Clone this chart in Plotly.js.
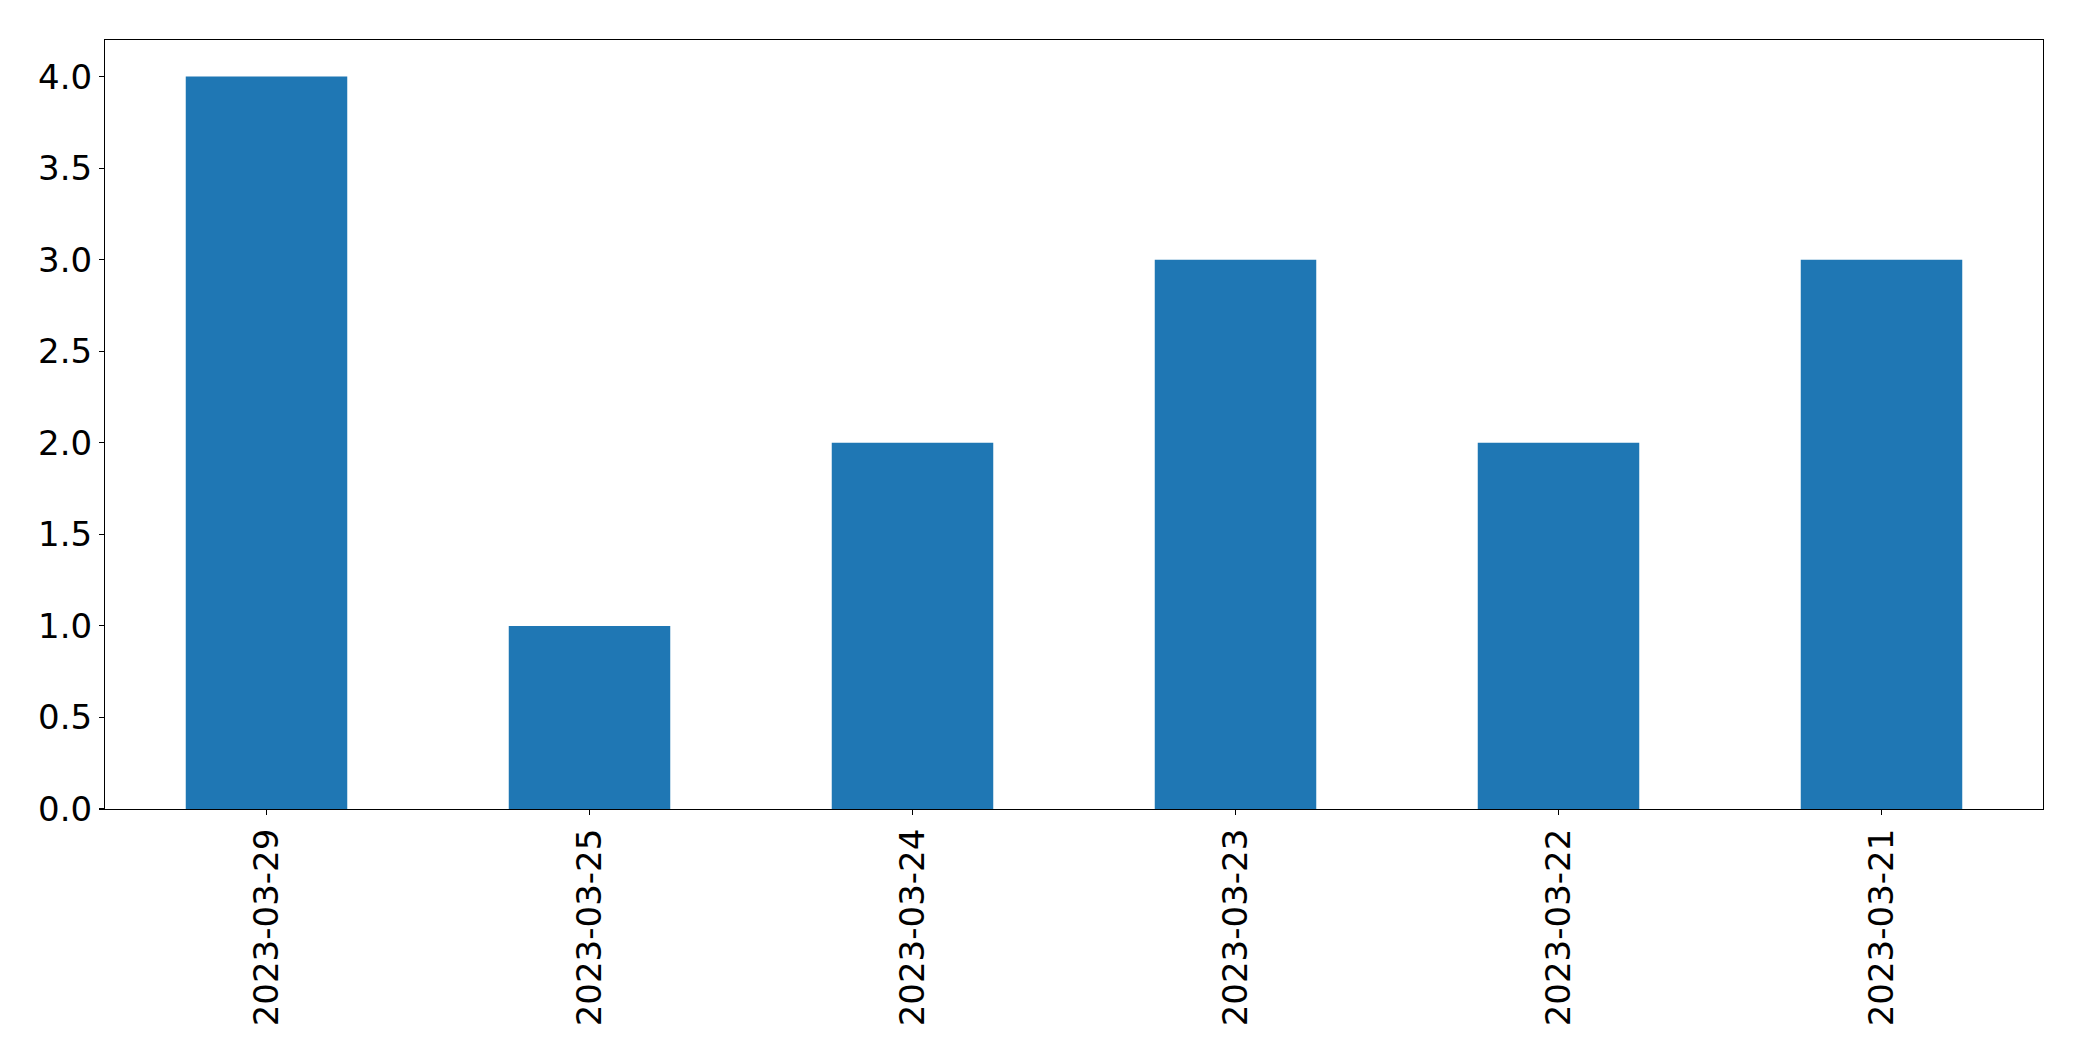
<!DOCTYPE html>
<html>
<head>
<meta charset="utf-8">
<script src="https://cdn.plot.ly/plotly-3.0.1.min.js"></script>
<style>html,body{margin:0;padding:0;background:#fff;}#chart{width:2082px;height:1061px;}</style>
</head>
<body>
<div id="chart"></div>
<script>
const categories = ["2023-03-29", "2023-03-25", "2023-03-24", "2023-03-23", "2023-03-22", "2023-03-21"];
const values = [4, 1, 2, 3, 2, 3];
const yTicks = [0, 0.5, 1, 1.5, 2, 2.5, 3, 3.5, 4];
const yTickLabels = ["0.0", "0.5", "1.0", "1.5", "2.0", "2.5", "3.0", "3.5", "4.0"];

const font = {family: "DejaVu Sans", size: 34, color: "#000"};
Plotly.newPlot("chart", [{
  type: "bar",
  x: categories,
  y: values,
  width: 0.5,
  marker: {color: "#1f77b4", line: {width: 0}},
  hoverinfo: "x+y"
}], {
  width: 2082, height: 1061,
  margin: {l: 105, r: 38.5, t: 39.5, b: 252, pad: 0},
  paper_bgcolor: "#fff", plot_bgcolor: "#fff",
  showlegend: false,
  font: font,
  xaxis: {
    type: "category",
    range: [-0.5, 5.5],
    tickangle: -90,
    ticks: "outside", ticklen: 5, tickwidth: 1.1, tickcolor: "#000",
    showline: true, mirror: true, linecolor: "#000", linewidth: 1.1,
    showgrid: false, zeroline: false,
    tickfont: font
  },
  yaxis: {
    range: [0, 4.2],
    tickvals: yTicks, ticktext: yTickLabels,
    ticks: "outside", ticklen: 5, tickwidth: 1.1, tickcolor: "#000",
    showline: true, mirror: true, linecolor: "#000", linewidth: 1.1,
    showgrid: false, zeroline: false,
    tickfont: font
  }
}, {displayModeBar: false, staticPlot: true});
</script>
</body>
</html>
